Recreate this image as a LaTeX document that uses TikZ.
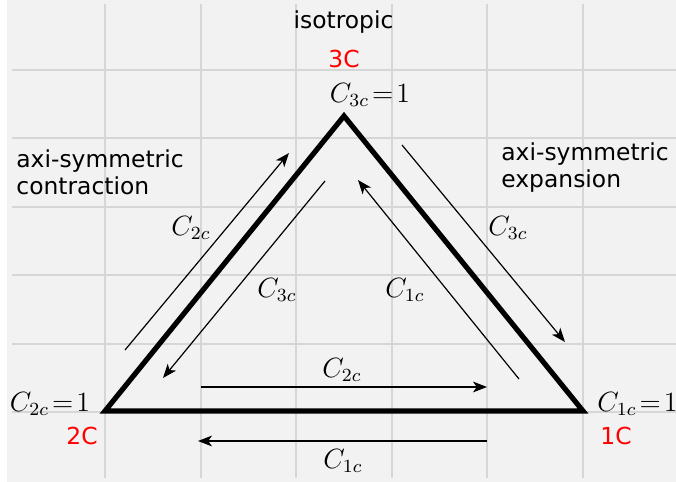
\documentclass[tikz,border=0pt]{standalone}
\usepackage{graphicx}
\usepackage{fontspec}
\setmainfont{DejaVu Sans}
\usetikzlibrary{
  arrows.meta % For arrow tips
}

\begin{document}
\begin{tikzpicture}[
      x=0.5pt, y=-0.5pt, % pixel grid of the reference
      >={Stealth[length=7pt, width=5.4pt, inset=1.9pt]}, % Default arrow tip
      font=\fontsize{11.7}{13.7}\selectfont,
      gridline/.style={draw=black!16, line width=0.75pt}, % Style for the grid
      flow/.style={line width=0.6pt, ->}, % Style for the arrows along the sides
      side/.style={line width=2.6pt, black, line join=miter}, % Style for the triangle
      mathlabel/.style={anchor=base, font=\fontsize{12}{14}\selectfont},
      caselabel/.style={red, anchor=base},
    ]

    % Größen
    \def\ms{1.16} % Skalierung der Formeln

    % Rahmen
    \useasboundingbox (0,0) rectangle (676,482);
    \fill[black!5] (7,0) rectangle (676,482);

    % Raster
    \foreach \x in {105,201,296,392,487,583}
    \draw[gridline] (\x,4) -- (\x,478);
    \foreach \y in {70,138,207,275,344,412}
    \draw[gridline] (12,\y) -- (676,\y);

    % Koordinaten der Ecken
    \coordinate (one) at (583,411);
    \coordinate (two) at (105,411);
    \coordinate (three) at (344,116);

    % Dreieck
    \draw[side] (two) -- (one) -- (three) -- cycle;

    % Koordinaten der Pfeile
    \coordinate (lo1) at (125,350);
    \coordinate (lo2) at (289,153);
    \coordinate (li1) at (325,181);
    \coordinate (li2) at (163,378);
    \coordinate (ro1) at (402,145);
    \coordinate (ro2) at (565,342);
    \coordinate (ri1) at (519,379);
    \coordinate (ri2) at (358,180);
    \coordinate (bi1) at (201,387);
    \coordinate (bi2) at (487,387);
    \coordinate (bo1) at (487,441);
    \coordinate (bo2) at (198,441);

    % Pfeile
    \foreach \i/\j in {lo1/lo2, li1/li2, ro1/ro2, ri1/ri2, bi1/bi2, bo1/bo2}
    \draw[flow] (\i) -- (\j);

    % Beschriftung der Pfeile
    \node[mathlabel] (lolab) at (191,235) {\scalebox{\ms}{$C_{2c}$}};
    \node[mathlabel] (lilab) at (277,297) {\scalebox{\ms}{$C_{3c}$}};
    \node[mathlabel] (rolab) at (508,235) {\scalebox{\ms}{$C_{3c}$}};
    \node[mathlabel] (rilab) at (405,297) {\scalebox{\ms}{$C_{1c}$}};
    \node[mathlabel] (bilab) at (342,377) {\scalebox{\ms}{$C_{2c}$}};
    \node[mathlabel] (bolab) at (343,468) {\scalebox{\ms}{$C_{1c}$}};

    % Ecken
    \node[mathlabel] (threeval) at (370,102) {\scalebox{\ms}{$C_{3c}\!=\!1$}};
    \node[mathlabel] (twoval) at (50,411) {\scalebox{\ms}{$C_{2c}\!=\!1$}};
    \node[mathlabel, anchor=base west, inner sep=0pt] (oneval) at (597,411) {\scalebox{\ms}{$C_{1c}\!=\!1$}};
    \node[caselabel] (threecase) at (344,68) {3C};
    \node[caselabel] (twocase) at (82,444) {2C};
    \node[caselabel] (onecase) at (616,444) {1C};

    % Zustaende
    \node[anchor=base] (iso) at (343.5,28) {isotropic};
    \node[anchor=north west, inner sep=0pt, align=left] (contr) at (16,149)
    {axi-symmetric\\contraction};
    \node[anchor=north west, inner sep=0pt, align=left] (expan) at (501,142)
    {axi-symmetric\\expansion};
  \end{tikzpicture}
\end{document}
